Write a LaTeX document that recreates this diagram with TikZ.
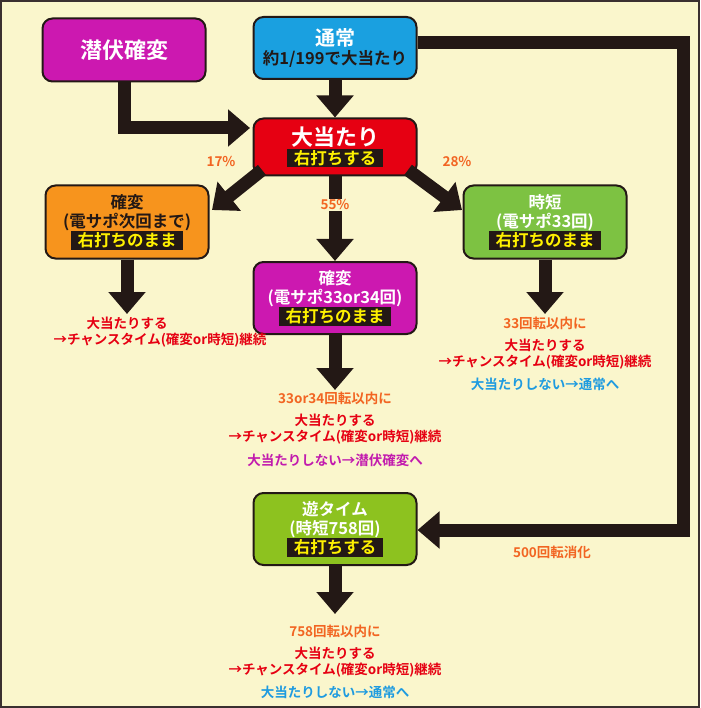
\documentclass[tikz,border=0pt]{standalone}
\usepackage{fontspec}
\setmainfont{Noto Sans CJK JP}[BoldFont={Noto Sans CJK JP Bold}]
\usetikzlibrary{arrows.meta}
\definecolor{bgyel}{HTML}{FAF6CC}
\definecolor{frame}{HTML}{3A3030}
\definecolor{arr}{HTML}{231815}
\definecolor{magen}{HTML}{CC18B0}
\definecolor{blu}{HTML}{1AA0E0}
\definecolor{redd}{HTML}{E60012}
\definecolor{oran}{HTML}{F7941D}
\definecolor{grn}{HTML}{7DC242}
\definecolor{ygrn}{HTML}{8DC21F}
\definecolor{txtor}{HTML}{F26522}
\definecolor{txtbl}{HTML}{1E9BE0}
\definecolor{txtpu}{HTML}{C21BAE}
\definecolor{stripyel}{HTML}{FFF100}
\newcommand{\strip}[1]{{\setlength{\fboxsep}{1.5pt}\colorbox{arr}{\color{stripyel}\hspace{5pt}#1\hspace{5pt}}}}

\begin{document}
\begin{tikzpicture}[x=1pt,y=-1pt,
    box/.style={draw=arr, line width=2pt, rounded corners=10pt, minimum width=163pt,
        font=\bfseries\fontsize{16.5}{19}\selectfont, align=center, inner sep=1pt},
    flow/.style={draw=arr, line width=13pt, -{Triangle[width=36pt,length=22pt]}},
    note/.style={font=\bfseries\fontsize{13.5}{15}\selectfont},
    pct/.style={note, text=txtor, fill=bgyel, inner sep=1pt}]
    \fill[bgyel] (0,0) rectangle (700,708);
    \draw[frame, line width=2pt] (1,1) rectangle (699,707);

    \node[box, fill=magen, text=white, minimum height=63pt, font=\bfseries\fontsize{22}{24}\selectfont] (senpuku) at (124,50) {潜伏確変};
    \node[box, fill=blu, text=white, minimum height=62pt] (tsujo) at (335,48) {\fontsize{20}{22}\selectfont 通常\\{\color{arr}約1/199で大当たり}};
    \node[box, fill=redd, text=white, minimum height=57pt] (atari) at (335,147) {\fontsize{22}{24}\selectfont 大当たり\\\strip{右打ちする}};
    \node[box, fill=oran, text=arr, minimum height=73pt] (kakuL) at (127,222) {確変\\(電サポ次回まで)\\\strip{右打ちのまま}};
    \node[box, fill=magen, text=white, minimum height=72pt] (kakuM) at (335,298) {確変\\(電サポ33or34回)\\\strip{右打ちのまま}};
    \node[box, fill=grn, text=white, minimum height=73pt] (jitan) at (545,222) {時短\\(電サポ33回)\\\strip{右打ちのまま}};
    \node[box, fill=ygrn, text=white, minimum height=72pt] (yu) at (335,529) {遊タイム\\(時短758回)\\\strip{右打ちする}};

    \coordinate (c1) at (124,128);
    \coordinate (e1) at (250,128);
    \coordinate (c2) at (683,43);
    \coordinate (c3) at (683,530);
    \coordinate (sL) at (262,170);
    \coordinate (sR) at (408,170);
    \coordinate (dL) at (212,210);
    \coordinate (dR) at (462,210);
    \coordinate (eL) at (127,314);
    \coordinate (eM) at (335,390);
    \coordinate (eR) at (545,314);
    \coordinate (eY) at (335,614);

    \draw[flow] (senpuku.south) -- (c1) -- (e1);
    \draw[flow] (tsujo) -- (atari);
    \draw[flow] (tsujo.east |- c2) -- (c2) -- (c3) -- (yu.east |- c3);
    \draw[flow] (sL) -- (dL);
    \draw[flow] (sR) -- (dR);
    \draw[flow] (atari) -- (kakuM);
    \draw[flow] (kakuL) -- (eL);
    \draw[flow] (kakuM) -- (eM);
    \draw[flow] (jitan) -- (eR);
    \draw[flow] (yu) -- (eY);

    \node[pct] (p17) at (221,162) {17\%};
    \node[pct] (p55) at (335,205) {55\%};
    \node[pct] (p28) at (457,162) {28\%};
    \node[pct] (p500) at (552,552) {500回転消化};

    \node[note, text=redd] (l1) at (127,323) {大当たりする};
    \node[note, text=redd] (l2) at (160,340) {→チャンスタイム(確変or時短)継続};

    \node[note, text=txtor] (r0) at (545,323) {33回転以内に};
    \node[note, text=redd] (r1) at (545,345) {大当たりする};
    \node[note, text=redd] (r2) at (545,362) {→チャンスタイム(確変or時短)継続};
    \node[note, text=txtbl] (r3) at (545,384) {大当たりしない→通常へ};

    \node[note, text=txtor] (m0) at (335,398) {33or34回転以内に};
    \node[note, text=redd] (m1) at (335,420) {大当たりする};
    \node[note, text=redd] (m2) at (335,437) {→チャンスタイム(確変or時短)継続};
    \node[note, text=txtpu] (m3) at (335,460) {大当たりしない→潜伏確変へ};

    \node[note, text=txtor] (y0) at (335,631) {758回転以内に};
    \node[note, text=redd] (y1) at (335,653) {大当たりする};
    \node[note, text=redd] (y2) at (335,670) {→チャンスタイム(確変or時短)継続};
    \node[note, text=txtbl] (y3) at (335,692) {大当たりしない→通常へ};
\end{tikzpicture}
\end{document}
